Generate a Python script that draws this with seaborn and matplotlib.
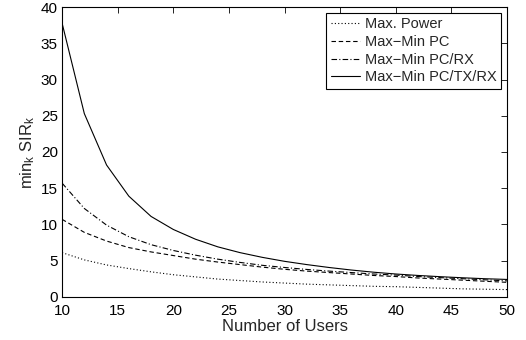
import numpy as np
import pandas as pd
import matplotlib
matplotlib.use('Agg')
import matplotlib.pyplot as plt
import seaborn as sns

# values
users = list(range(10, 51, 2))
max_power = [6.1, 5.1, 4.4, 3.9, 3.45, 3.05, 2.75, 2.45, 2.25, 2.05, 1.9,
             1.75, 1.65, 1.55, 1.45, 1.4, 1.3, 1.2, 1.1, 1.05, 1.0]
maxmin_pc = [10.7, 8.9, 7.7, 6.8, 6.2, 5.7, 5.2, 4.8, 4.45, 4.1, 3.8,
             3.55, 3.35, 3.15, 2.95, 2.8, 2.6, 2.45, 2.3, 2.15, 2.0]
maxmin_pc_rx = [15.7, 12.2, 9.9, 8.3, 7.2, 6.4, 5.75, 5.2, 4.75, 4.35, 4.05,
                3.78, 3.55, 3.35, 3.15, 3.0, 2.8, 2.65, 2.5, 2.35, 2.2]
maxmin_pc_tx_rx = [37.8, 25.3, 18.2, 13.9, 11.1, 9.3, 7.95, 6.9, 6.1, 5.45, 4.9,
                   4.45, 4.05, 3.7, 3.4, 3.15, 2.95, 2.78, 2.63, 2.5, 2.4]

labels = ['Max. Power', 'Max\u2212Min PC', 'Max\u2212Min PC/RX', 'Max\u2212Min PC/TX/RX']
styles = [(0, (1, 2)), (0, (4, 2.5)), (0, (5, 2, 1, 2)), '-']

df = pd.DataFrame({
    'users': users * 4,
    'sir': max_power + maxmin_pc + maxmin_pc_rx + maxmin_pc_tx_rx,
    'scheme': [l for l in labels for _ in users],
})

sns.set_style('white')
plt.rcParams['font.family'] = ['Liberation Sans', 'DejaVu Sans']
plt.rcParams['mathtext.fontset'] = 'custom'
plt.rcParams['mathtext.rm'] = 'Liberation Sans'
plt.rcParams['mathtext.it'] = 'Liberation Sans'

fig = plt.figure(figsize=(5.26, 3.40), dpi=100)
ax = fig.add_axes([0.118, 0.127, 0.846, 0.852])

for lab, ls in zip(labels, styles):
    sns.lineplot(data=df[df['scheme'] == lab], x='users', y='sir', ax=ax,
                 color='black', linewidth=0.8, linestyle=ls, label=lab)

ax.set_xlim(10, 50)
ax.set_ylim(0, 40)
ax.set_xticks(range(10, 51, 5))
ax.set_yticks(range(0, 41, 5))
ax.tick_params(direction='in', length=4, width=0.6, top=True, right=True,
               labelsize=11, colors='black')
ax.tick_params(axis='x', pad=5)
ax.tick_params(axis='y', pad=3)
for s in ax.spines.values():
    s.set_color('black')
    s.set_linewidth(0.8)
ax.set_xlabel('Number of Users', fontsize=12, labelpad=1)
ax.set_ylabel(r'min$_k$ SIR$_k$', fontsize=12, labelpad=3)

leg = ax.legend(loc='upper right', fontsize=10.5, handlelength=2.0, handletextpad=0.35,
                borderpad=0.3, labelspacing=0.25, borderaxespad=0.4,
                frameon=True, fancybox=False, edgecolor='black', framealpha=1)
leg.get_frame().set_linewidth(0.8)

fig.savefig('out.png', dpi=100)
